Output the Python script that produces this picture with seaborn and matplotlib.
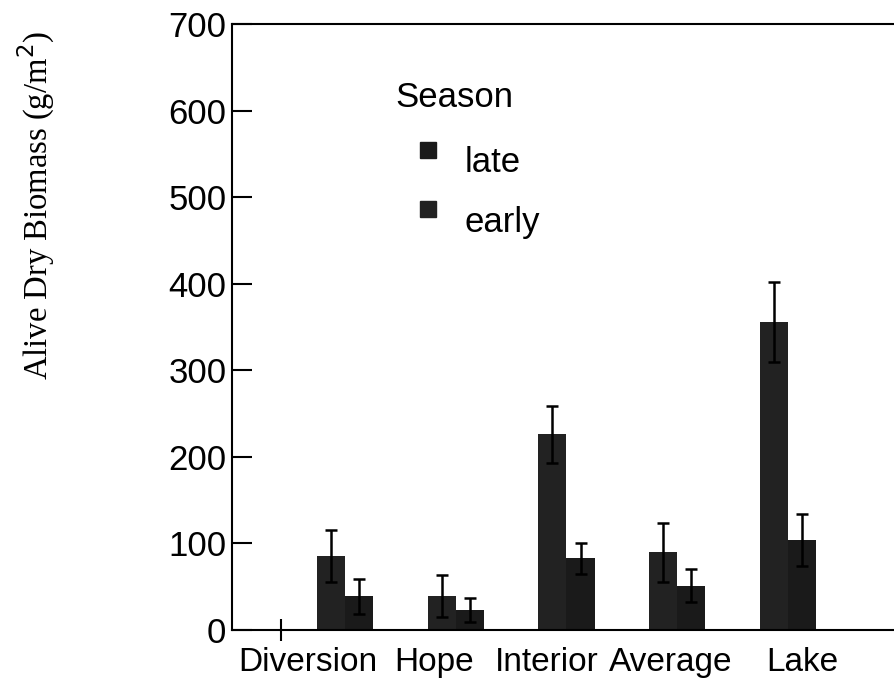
import matplotlib
matplotlib.use("Agg")
import matplotlib.pyplot as plt
from matplotlib.lines import Line2D
import seaborn as sns
import pandas as pd

# ---- data ----
sites = ["Diversion", "Hope", "Interior", "Average", "Lake"]
seasons = ["late", "early"]
late_vals = [85, 39, 226, 90, 356]
early_vals = [39, 23, 83, 51, 104]
late_err = [30, 24, 33, 34, 46]
early_err = [20, 14, 18, 19, 30]
y_ticks = [0, 100, 200, 300, 400, 500, 600, 700]
# label placement offsets (layout, category units)
label_offsets = [-0.334, -0.196, -0.176, -0.056, 0.126]
extra_tick = -0.578

df = pd.DataFrame({
    "site": sites * 2,
    "season": ["late"] * len(sites) + ["early"] * len(sites),
    "value": late_vals + early_vals,
})
errs = {"late": late_err, "early": early_err}

sns.set_style("white")
plt.rcParams["font.family"] = ["Liberation Sans", "DejaVu Sans"]
plt.rcParams["text.color"] = "black"
plt.rcParams["xtick.color"] = "black"
plt.rcParams["ytick.color"] = "black"
plt.rcParams["axes.labelcolor"] = "black"

FS = 25
W, H = 895, 679
fig = plt.figure(figsize=(8.95, 6.79), dpi=100)
ax = fig.add_axes([232 / W, 1 - 630 / H, 1 - 232 / W, (630 - 24) / H])

bar_colors = {"late": "#222222", "early": "#1a1a1a"}
sns.barplot(data=df, x="site", y="value", hue="season", order=sites,
            hue_order=seasons, palette=bar_colors, width=0.506,
            errorbar=None, legend=False, linewidth=0, saturation=1, ax=ax)

for cont, s in zip(ax.containers, seasons):
    for patch, e in zip(cont, errs[s]):
        xc = patch.get_x() + patch.get_width() / 2
        ax.errorbar(xc, patch.get_height(), yerr=e, fmt="none", ecolor="black",
                    elinewidth=1.8, capsize=4, capthick=1.8, zorder=5)

ax.set_ylim(0, 700)
ax.set_xlim(-1.02, 4.966)
ax.set_yticks(y_ticks)
ax.set_yticklabels([str(v) for v in y_ticks])
ax.set_xticks([i + o for i, o in enumerate(label_offsets)])
ax.set_xticklabels(sites)
ax.set_xticks([extra_tick], minor=True)
ax.tick_params(axis="x", which="major", length=0, pad=12.5, labelsize=24,
               labelcolor="black")
ax.tick_params(axis="x", which="minor", length=16.5, width=1.5,
               direction="inout", color="black", bottom=True)
ax.tick_params(axis="y", which="major", length=14.5, width=1.5,
               direction="in", color="black", pad=4, labelsize=FS, left=True,
               labelcolor="black")
ax.set_xlabel("")
ax.set_ylabel("")

for side in ["left", "top", "bottom"]:
    ax.spines[side].set_visible(True)
    ax.spines[side].set_color("black")
    ax.spines[side].set_linewidth(1.5)
ax.spines["right"].set_visible(False)

fig.text(36 / W, 1 - 205 / H, "Alive Dry Biomass (g/m$^2$)",
         rotation=90, ha="center", va="center", fontsize=23.5,
         family=["Liberation Serif", "DejaVu Serif"], color="black")

# legend (drawn as figure annotations)
fig.text(395 / W, 1 - 107 / H, "Season", ha="left", va="baseline",
         fontsize=FS, color="black")
legend_marker_colors = ["#1a1a1a", "#222222"]
for lab, c, my, ty in zip(seasons, legend_marker_colors, [150, 209], [172, 232]):
    fig.add_artist(Line2D([428 / W], [1 - my / H], marker="s", markersize=11.5,
                          linestyle="none", color=c, transform=fig.transFigure))
    fig.text(465 / W, 1 - ty / H, lab, ha="left", va="baseline",
             fontsize=FS, color="black")

fig.savefig("out.png", dpi=100)
